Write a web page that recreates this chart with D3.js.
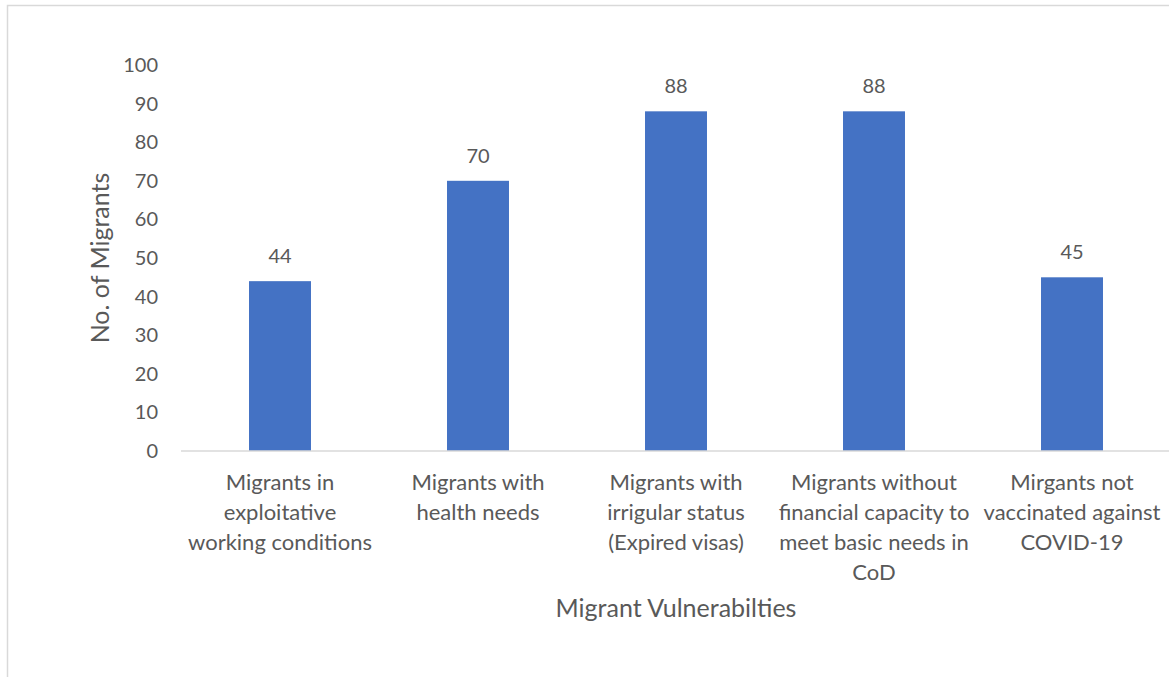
<!DOCTYPE html>
<html>
<head>
<meta charset="UTF-8">
<style>
  body { margin: 0; background: #fff; }
  text { font-family: Lato, "Open Sans", sans-serif; fill: #595959; }
</style>
</head>
<body>
<svg id="chart" width="1169" height="677"></svg>
<script src="https://d3js.org/d3.v7.min.js"></script>
<script>
// data
const categories = [
  "Migrants in\nexploitative\nworking conditions",
  "Migrants with\nhealth needs",
  "Migrants with\nirrigular status\n(Expired visas)",
  "Migrants without\nfinancial capacity to\nmeet basic needs in\nCoD",
  "Mirgants not\nvaccinated against\nCOVID-19"
];
const values = [44, 70, 88, 88, 45];
const yTicks = [0, 10, 20, 30, 40, 50, 60, 70, 80, 90, 100];

const svg = d3.select("#chart");

// chart border (runs off right/bottom edge like the screenshot)
svg.append("rect")
  .attr("x", 7.5).attr("y", 5.5)
  .attr("width", 1200).attr("height", 700)
  .attr("fill", "none")
  .attr("stroke", "#d9d9d9")
  .attr("stroke-width", 1.5);

const plotLeft = 181, plotRight = 1171, plotTop = 65, plotBottom = 451;

const x = d3.scaleBand()
  .domain(categories)
  .range([plotLeft, plotRight])
  .paddingInner(0.687)
  .paddingOuter(0.687 / 2);

const y = d3.scaleLinear()
  .domain([0, 100])
  .range([plotBottom, plotTop]);

// y tick labels
svg.append("g")
  .selectAll("text")
  .data(yTicks)
  .join("text")
  .attr("x", 158)
  .attr("y", d => y(d))
  .attr("dy", "0.35em")
  .attr("text-anchor", "end")
  .style("font-size", "20px")
  .text(d => d);

// bars
svg.append("g")
  .selectAll("rect")
  .data(values)
  .join("rect")
  .attr("x", (d, i) => x(categories[i]))
  .attr("y", d => y(d))
  .attr("width", x.bandwidth())
  .attr("height", d => y(0) - y(d))
  .attr("fill", "#4472c4");

// baseline
svg.append("line")
  .attr("x1", plotLeft).attr("x2", 1169)
  .attr("y1", y(0)).attr("y2", y(0))
  .attr("stroke", "#d9d9d9")
  .attr("stroke-width", 1.5);

// value labels
svg.append("g")
  .selectAll("text")
  .data(values)
  .join("text")
  .attr("x", (d, i) => x(categories[i]) + x.bandwidth() / 2)
  .attr("y", d => y(d) - 18)
  .attr("text-anchor", "middle")
  .style("font-size", "20px")
  .text(d => d);

// category labels
const cat = svg.append("g")
  .selectAll("text")
  .data(categories)
  .join("text")
  .attr("x", d => x(d) + x.bandwidth() / 2)
  .attr("y", 490)
  .attr("text-anchor", "middle")
  .style("font-size", "22px");

cat.selectAll("tspan")
  .data(d => d.split("\n"))
  .join("tspan")
  .attr("x", function() { return d3.select(this.parentNode).attr("x"); })
  .attr("dy", (d, i) => i === 0 ? 0 : 30)
  .text(d => d);

// axis titles
svg.append("text")
  .attr("x", 676)
  .attr("y", 608)
  .attr("dy", "0.35em")
  .attr("text-anchor", "middle")
  .style("font-size", "25px")
  .text("Migrant Vulnerabilties");

svg.append("text")
  .attr("transform", "translate(100,258) rotate(-90)")
  .attr("dy", "0.35em")
  .attr("text-anchor", "middle")
  .style("font-size", "25px")
  .text("No. of Migrants");
</script>
</body>
</html>
